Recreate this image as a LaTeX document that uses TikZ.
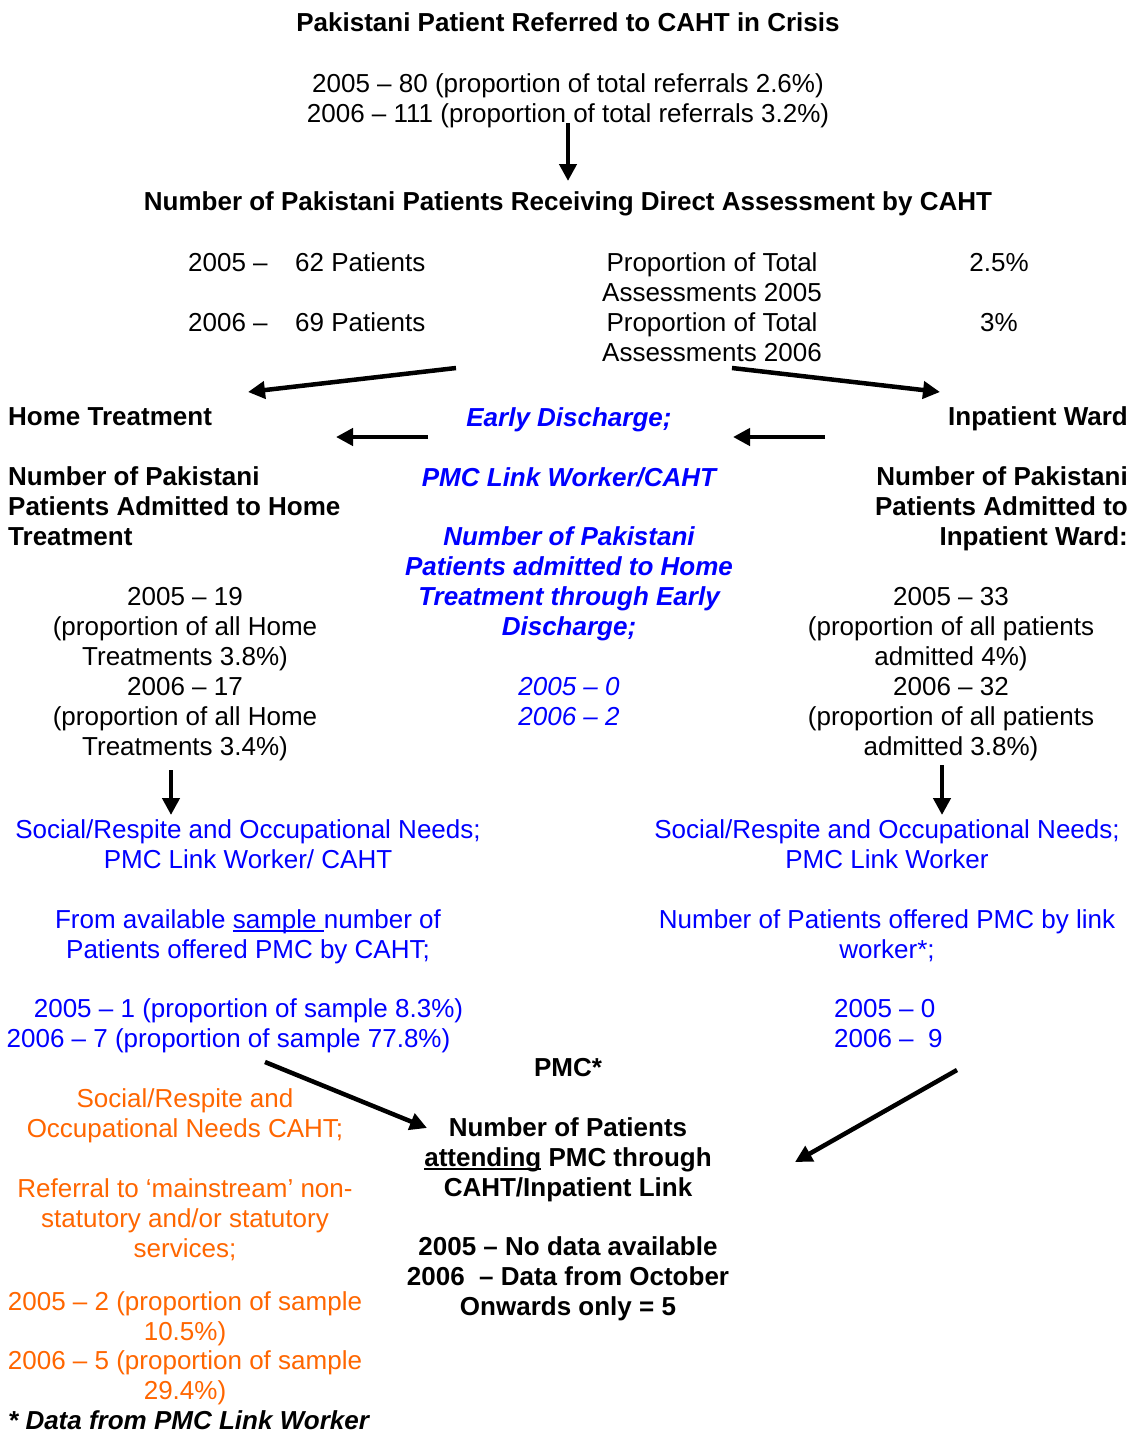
\documentclass[tikz,border=0pt]{standalone}
\usepackage{fontspec}
\setmainfont{Liberation Sans}
\usetikzlibrary{arrows.meta}
\definecolor{lblue}{RGB}{0,0,255}
\definecolor{lorange}{RGB}{255,102,0}
\newcommand{\fs}{\fontsize{26}{30}\selectfont}
\newsavebox{\ulbox}
\newcommand{\myul}[1]{\sbox{\ulbox}{#1}\rlap{\rule[-4pt]{\wd\ulbox}{2pt}}\usebox{\ulbox}}
\tikzset{
  txt/.style={inner sep=0pt, font=\fs, align=center, anchor=base},
  bld/.style={txt, font=\fs\bfseries},
  bluebi/.style={txt, font=\fs\bfseries\itshape, text=lblue},
  bluei/.style={txt, font=\fs\itshape, text=lblue},
  blue/.style={txt, text=lblue},
  orng/.style={txt, text=lorange},
  arr/.style={line width=4.5pt, -{Triangle[length=17pt,width=17pt]}}
}
\begin{document}
\begin{tikzpicture}[x=1pt,y=-1pt]
\useasboundingbox[fill=white] (0,0) rectangle (1137,1432);

\node[bld] (title) at (568,31) {Pakistani Patient Referred to CAHT in Crisis};
\node[txt] (ref) at (568,122) {2005 -- 80 (proportion of total referrals 2.6\%)\\2006 -- 111 (proportion of total referrals 3.2\%)};

\coordinate (a1s) at (568,123);
\coordinate (a1e) at (568,181);
\draw[arr] (a1s) -- (a1e);

\node[bld] (assess) at (568,210) {Number of Pakistani Patients Receiving Direct Assessment by CAHT};

\node[txt, anchor=base west] (y05) at (188,271) {2005 --};
\node[txt, anchor=base west] (p62) at (295,271) {62 Patients};
\node[txt] (prop05) at (712,301) {Proportion of Total\\Assessments 2005};
\node[txt] (pc05) at (999,271) {2.5\%};
\node[txt, anchor=base west] (y06) at (188,331) {2006 --};
\node[txt, anchor=base west] (p69) at (295,331) {69 Patients};
\node[txt] (prop06) at (712,361) {Proportion of Total\\Assessments 2006};
\node[txt] (pc06) at (999,331) {3\%};

\coordinate (a2s) at (456,368);
\coordinate (a2e) at (248,392);
\coordinate (a3s) at (732,368);
\coordinate (a3e) at (940,392);
\draw[arr] (a2s) -- (a2e);
\draw[arr] (a3s) -- (a3e);

\node[bld, anchor=base west] (home) at (8,425) {Home Treatment};
\node[bluebi] (early) at (569,426) {Early Discharge;};
\node[bld, anchor=base east] (inpat) at (1128,425) {Inpatient Ward};

\coordinate (a4s) at (428,437);
\coordinate (a4e) at (336,437);
\coordinate (a5s) at (825,437);
\coordinate (a5e) at (733,437);
\draw[arr] (a4s) -- (a4e);
\draw[arr] (a5s) -- (a5e);

\node[bld, anchor=base west, align=left] (homeadm) at (8,545) {Number of Pakistani\\Patients Admitted to Home\\Treatment};
\node[bluebi] (pmclink) at (569,486) {PMC Link Worker/CAHT};
\node[bld, anchor=base east, align=right] (inadm) at (1128,545) {Number of Pakistani\\Patients Admitted to\\Inpatient Ward:};

\node[bluebi] (earlyadm) at (569,635) {Number of Pakistani\\Patients admitted to Home\\Treatment through Early\\Discharge;};

\node[txt] (homenum) at (185,755) {2005 -- 19\\(proportion of all Home\\Treatments 3.8\%)\\2006 -- 17\\(proportion of all Home\\Treatments 3.4\%)};
\node[bluei] (earlynum) at (569,725) {2005 -- 0\\2006 -- 2};
\node[txt] (innum) at (951,755) {2005 -- 33\\(proportion of all patients\\admitted 4\%)\\2006 -- 32\\(proportion of all patients\\admitted 3.8\%)};

\coordinate (a6s) at (171,770);
\coordinate (a6e) at (171,815);
\coordinate (a7s) at (942,765);
\coordinate (a7e) at (942,815);
\draw[arr] (a6s) -- (a6e);
\draw[arr] (a7s) -- (a7e);

\node[blue] (socl) at (248,868) {Social/Respite and Occupational Needs;\\PMC Link Worker/ CAHT};
\node[blue] (socr) at (887,868) {Social/Respite and Occupational Needs;\\PMC Link Worker};

\node[blue] (availl) at (248,958) {From available \myul{sample }number of\\Patients offered PMC by CAHT;};
\node[blue] (offr) at (887,958) {Number of Patients offered PMC by link\\worker*;};

\node[blue] (l05) at (248.5,1017) {2005 -- 1 (proportion of sample 8.3\%)};
\node[blue] (l06) at (228.5,1047) {2006 -- 7 (proportion of sample 77.8\%)};
\node[blue, anchor=base west] (r05) at (834,1017) {2005 -- 0};
\node[blue, anchor=base west] (r06) at (834,1047) {2006 --\ \ 9};

\node[bld] (pmc) at (568,1076) {PMC*};

\coordinate (a8s) at (265,1062);
\coordinate (a8e) at (427,1128);
\coordinate (a9s) at (957,1070);
\coordinate (a9e) at (795,1162);
\draw[arr] (a8s) -- (a8e);
\draw[arr] (a9s) -- (a9e);

\node[bld] (attend) at (568,1196) {Number of Patients\\\myul{attending} PMC through\\CAHT/Inpatient Link};
\node[bld] (attnum) at (568,1315) {2005 -- No data available\\2006\ \ -- Data from October\\Onwards only = 5};

\node[orng] (osoc) at (185,1137) {Social/Respite and\\Occupational Needs CAHT;};
\node[orng] (oref) at (185,1257) {Referral to `mainstream' non-\\statutory and/or statutory\\services;};
\node[orng] (o05) at (185,1340) {2005 -- 2 (proportion of sample\\10.5\%)};
\node[orng] (o06) at (185,1399) {2006 -- 5 (proportion of sample\\29.4\%)};

\node[txt, anchor=base west, font=\fs\bfseries\itshape] (foot) at (8,1429) {* Data from PMC Link Worker};
\end{tikzpicture}
\end{document}
